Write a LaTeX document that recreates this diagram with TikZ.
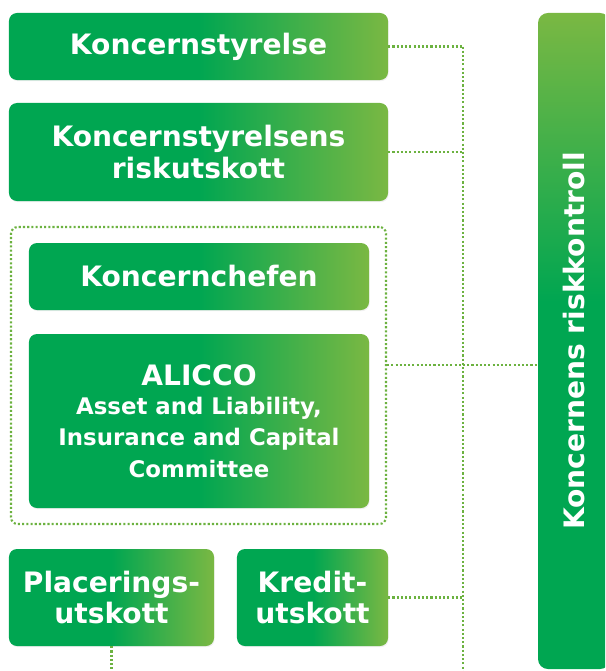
\documentclass[tikz,border=0pt]{standalone}
\usepackage{fontspec}
\setmainfont{DejaVu Sans}
\usetikzlibrary{shadows}

\definecolor{grdark}{RGB}{0,166,81}
\definecolor{grlight}{RGB}{122,184,67}
\definecolor{grdot}{RGB}{108,178,64}

% dark on the left half, fading to light green on the right
\pgfdeclarehorizontalshading{boxfill}{100bp}{color(0bp)=(grdark); color(25bp)=(grdark);
  color(50bp)=(grdark); color(75bp)=(grlight); color(100bp)=(grlight)}
% light green at the top, dark below
\pgfdeclareverticalshading{barfill}{100bp}{color(0bp)=(grdark); color(25bp)=(grdark);
  color(53bp)=(grdark); color(75bp)=(grlight); color(100bp)=(grlight)}

\tikzset{
  box/.style={shading=boxfill, rounded corners=0.24cm, text=white, align=center,
    font=\bfseries\fontsize{24}{27}\selectfont, inner sep=0pt,
    drop shadow={opacity=0.12, shadow xshift=0.6pt, shadow yshift=-1pt}},
  group/.style={draw=grdot, line width=1.8pt, dash pattern=on 1.8pt off 1.8pt,
    rounded corners=0.2cm, inner sep=0pt},
  bar/.style={shading=barfill, rounded corners=0.3cm, text=white, inner sep=0pt,
    font=\bfseries\fontsize{24}{27}\selectfont},
  link/.style={draw=grdot, line width=1.8pt, dash pattern=on 1.8pt off 1.8pt}
}

\begin{document}
\begin{tikzpicture}[x=0.03cm,y=-0.03cm]
  \useasboundingbox (0,0) rectangle (605,671);
  \clip (0,0) rectangle (605,671);

  % spine and connectors
  \coordinate (top) at (463,46.5);
  \coordinate (bottom) at (463,671);

  \node[box, minimum width=11.37cm, minimum height=2.01cm] (styrelse) at (198.5,46.5) {Koncernstyrelse};
  \node[box, minimum width=11.37cm, minimum height=2.94cm] (risk) at (198.5,152) {Koncernstyrelsens\\riskutskott};

  \node[group, minimum width=11.25cm, minimum height=8.91cm] (ledning) at (198.5,375.5) {};
  \node[box, minimum width=10.2cm, minimum height=2.01cm] (chef) at (199,276.5) {Koncernchefen};
  \node[box, minimum width=10.2cm, minimum height=5.22cm] (alicco) at (199,421)
    {ALICCO\\[-2pt]\fontsize{19.5}{24.7}\selectfont Asset and Liability,\\\fontsize{19.5}{24.7}\selectfont Insurance and Capital\\\fontsize{19.5}{24.7}\selectfont Committee};

  \node[box, minimum width=6.15cm, minimum height=2.91cm] (placering) at (111.5,597.5) {Placerings-\\utskott};
  \node[box, minimum width=4.53cm, minimum height=2.91cm] (kredit) at (312.5,597.5) {Kredit-\\utskott};

  \node[bar, minimum width=2.16cm, minimum height=19.68cm] (kontroll) at (574,341) {\rotatebox{90}{Koncernens riskkontroll}};

  \draw[link] (top) -- (bottom);
  \draw[link] (styrelse.east) -- (top);
  \draw[link] (risk.east) -- (risk.east -| top);
  \draw[link] (kredit.east) -- (kredit.east -| top);
  \draw[link] (ledning.east |- 0,365) -- (kontroll.west |- 0,365);
  \draw[link] (placering.south) -- (placering.south |- bottom);
\end{tikzpicture}
\end{document}
